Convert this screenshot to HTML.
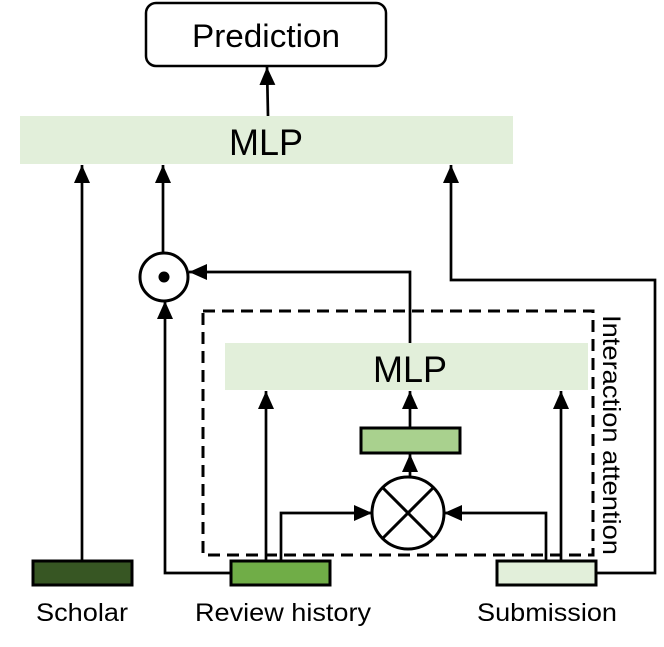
<!DOCTYPE html>
<html><head><style>body{margin:0;background:#fff}svg{display:block}text{font-family:"Liberation Sans",sans-serif;fill:#000}</style></head>
<body>
<svg width="664" height="647" viewBox="0 0 664 647" xmlns="http://www.w3.org/2000/svg">
<defs>
<marker id="b" viewBox="0 0 18 16" markerWidth="18" markerHeight="16" refX="18" refY="8" orient="auto" markerUnits="userSpaceOnUse"><path d="M0,0 L18,8 L0,16 Z" fill="#000"/></marker></defs>
<rect x="146" y="3" width="240" height="63" rx="10" fill="#fff" stroke="#000" stroke-width="2.5"/>
<text x="266" y="47" font-size="32" text-anchor="middle" textLength="148" lengthAdjust="spacingAndGlyphs">Prediction</text>
<rect x="20" y="116" width="493" height="48" fill="#e2efda"/>
<text x="266" y="155" font-size="37" text-anchor="middle" textLength="74" lengthAdjust="spacingAndGlyphs">MLP</text>
<rect x="203" y="311" width="390" height="244" fill="none" stroke="#000" stroke-width="3" stroke-dasharray="12,7"/>
<text transform="translate(603,315) rotate(90)" font-size="25" textLength="240" lengthAdjust="spacingAndGlyphs">Interaction attention</text>
<rect x="225" y="343" width="363" height="47" fill="#e2efda"/>
<text x="410" y="382" font-size="37" text-anchor="middle" textLength="74" lengthAdjust="spacingAndGlyphs">MLP</text>
<g stroke="#000" stroke-width="2.7" fill="none">
<line x1="268" y1="116" x2="267" y2="67" marker-end="url(#b)"/>
<line x1="82" y1="561" x2="82" y2="165" marker-end="url(#b)"/>
<line x1="163" y1="253" x2="163" y2="165" marker-end="url(#b)"/>
<polyline points="497,573 655,573 655,280 451,280 451,165" marker-end="url(#b)"/>
<polyline points="231,573 165,573 165,301" marker-end="url(#b)"/>
<polyline points="410,343 410,272 189,272" marker-end="url(#b)"/>
<line x1="266" y1="561" x2="266" y2="391" marker-end="url(#b)"/>
<polyline points="281,561 281,513 372,513" marker-end="url(#b)"/>
<polyline points="546,561 546,513 444,513" marker-end="url(#b)"/>
<line x1="561" y1="561" x2="561" y2="391" marker-end="url(#b)"/>
<line x1="410" y1="477" x2="410" y2="454" marker-end="url(#b)"/>
<line x1="410" y1="428" x2="410" y2="391" marker-end="url(#b)"/>
</g>
<circle cx="164" cy="277" r="24" fill="#fff" stroke="#000" stroke-width="3"/>
<circle cx="164" cy="277" r="5.5" fill="#000"/>
<circle cx="408" cy="513" r="36" fill="#fff" stroke="#000" stroke-width="3"/>
<line x1="382.5" y1="487.5" x2="433.5" y2="538.5" stroke="#000" stroke-width="3"/>
<line x1="433.5" y1="487.5" x2="382.5" y2="538.5" stroke="#000" stroke-width="3"/>
<rect x="361" y="428" width="99" height="25" fill="#a9d18e" stroke="#000" stroke-width="3"/>
<rect x="33" y="561" width="99" height="24" fill="#375623" stroke="#000" stroke-width="3"/>
<rect x="231" y="561" width="99" height="24" fill="#70ad47" stroke="#000" stroke-width="3"/>
<rect x="497" y="561" width="99" height="24" fill="#e2efda" stroke="#000" stroke-width="3"/>
<text x="82" y="621" font-size="25" text-anchor="middle" textLength="92" lengthAdjust="spacingAndGlyphs">Scholar</text>
<text x="283" y="621" font-size="25" text-anchor="middle" textLength="176" lengthAdjust="spacingAndGlyphs">Review history</text>
<text x="547" y="621" font-size="25" text-anchor="middle" textLength="140" lengthAdjust="spacingAndGlyphs">Submission</text>
</svg>
</body></html>
